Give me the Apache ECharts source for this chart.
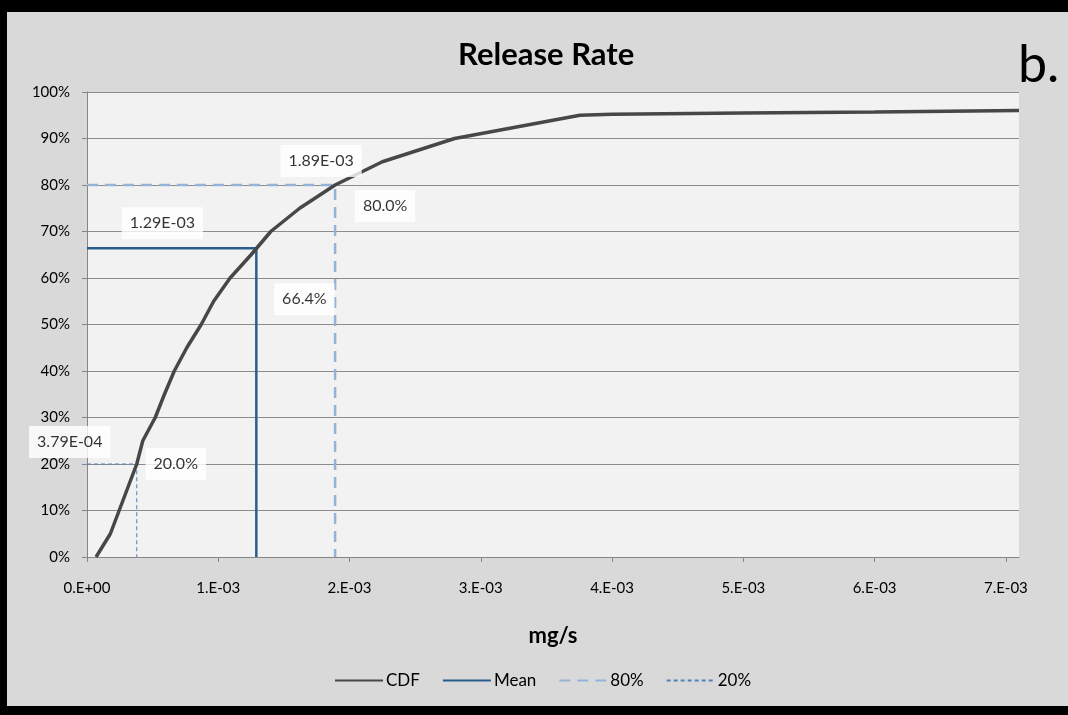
<!DOCTYPE html>
<html>
<head>
<meta charset="utf-8">
<script src="https://cdn.jsdelivr.net/npm/echarts@6/dist/echarts.min.js"></script>
<style>
  html, body { margin: 0; padding: 0; background: #000; }
  #chart { position: absolute; left: 7px; top: 12px; width: 1061px; height: 694px; }
</style>
</head>
<body>
<div id="chart"></div>
<script>
// CDF of release rate (mg/s) vs cumulative percent
const cdfRate = [0.000069, 0.000178, 0.000245, 0.000312, 0.000379, 0.000425, 0.000520, 0.000590,
                 0.000665, 0.000760, 0.000870, 0.000965, 0.001090, 0.001250, 0.001400, 0.001620,
                 0.001890, 0.002250, 0.002800, 0.003755, 0.004000, 0.005000, 0.006000, 0.007100];
const cdfPct = [0, 5, 10, 15, 20, 25, 30, 35, 40, 45, 50, 55, 60, 65, 70, 75, 80, 85, 90, 95,
                95.2, 95.5, 95.7, 96.0];

const meanRate = 0.00129, meanPct = 66.4;
const p80Rate = 0.00189, p80Pct = 80.0;
const p20Rate = 0.000379, p20Pct = 20.0;

const font = 'Lato, "Open Sans", sans-serif';

function sciTick(v) {
    if (v === 0) return '0.E+00';
    const e = Math.floor(Math.log10(Math.abs(v)) + 1e-9);
    const m = Math.round(v / Math.pow(10, e));
    return m + '.E' + (e < 0 ? '-' : '+') + String(Math.abs(e)).padStart(2, '0');
}
function sci2(v) {
    const [m, e] = v.toExponential(2).split('e');
    const n = parseInt(e, 10);
    return m + 'E' + (n < 0 ? '-' : '+') + String(Math.abs(n)).padStart(2, '0');
}

// a reference line: horizontal from the y axis to the curve, then down to the x axis
const refLine = (rate, pct) => [[0, pct], [rate, pct], [rate, 0]];

const labelBox = (rate, pct, text, offset) => ({
    value: [rate, pct],
    label: { formatter: text, offset: offset }
});

const chart = echarts.init(document.getElementById('chart'));

chart.setOption({
    backgroundColor: '#d9d9d9',
    animation: false,
    title: [
        { text: 'Release Rate', left: 446, top: 22,
          textStyle: { fontFamily: font, fontSize: 31, fontWeight: 'bold', color: '#000' } },
        { text: 'b.', left: 1006, top: 22,
          textStyle: { fontFamily: font, fontSize: 52, fontWeight: 'normal', color: '#000' } }
    ],
    legend: {
        data: ['CDF', 'Mean', '80%', '20%'],
        left: 322, top: 655,
        itemWidth: 48, itemHeight: 12, itemGap: 22,
        itemStyle: { color: 'transparent', borderWidth: 0, opacity: 0 },
        textStyle: { fontFamily: font, fontSize: 17, color: '#000', padding: [0, 0, 0, -2] }
    },
    grid: {
        left: 80, right: 49, top: 80, bottom: 149,
        show: true, backgroundColor: '#f2f2f2', borderWidth: 0
    },
    xAxis: {
        type: 'value',
        min: 0, max: 0.0071, interval: 0.001,
        name: 'mg/s', nameLocation: 'middle', nameGap: 68,
        nameTextStyle: { fontFamily: font, fontSize: 22, fontWeight: 'bold', color: '#000' },
        axisLine: { show: true, lineStyle: { color: '#868686' } },
        axisTick: { show: true, length: 5, lineStyle: { color: '#868686' } },
        axisLabel: { formatter: sciTick, margin: 24, fontFamily: font, fontSize: 15, color: '#000',
                     showMaxLabel: false },
        splitLine: { show: false }
    },
    yAxis: {
        type: 'value',
        min: 0, max: 100, interval: 10,
        axisLine: { show: true, lineStyle: { color: '#868686' } },
        axisTick: { show: true, length: 5, lineStyle: { color: '#868686' } },
        axisLabel: { formatter: '{value}%', margin: 17, fontFamily: font, fontSize: 15, color: '#000' },
        splitLine: { show: true, lineStyle: { color: '#8c8c8c', width: 1 } }
    },
    series: [
        {
            name: 'CDF', type: 'line', symbol: 'none', z: 5,
            lineStyle: { color: '#474747', width: 3.5 },
            itemStyle: { color: '#474747' },
            data: cdfRate.map((r, i) => [r, cdfPct[i]])
        },
        {
            name: 'Mean', type: 'line', symbol: 'none', z: 3,
            lineStyle: { color: '#2b5c8e', width: 2.5 },
            itemStyle: { color: '#2b5c8e' },
            data: refLine(meanRate, meanPct)
        },
        {
            name: '80%', type: 'line', symbol: 'none', z: 3,
            lineStyle: { color: '#95b3d7', width: 2.5, type: [11, 7] },
            itemStyle: { color: '#95b3d7' },
            data: refLine(p80Rate, p80Pct)
        },
        {
            name: '20%', type: 'line', symbol: 'none', z: 3,
            lineStyle: { color: '#4f81bd', width: 1, type: [4, 3] },
            itemStyle: { color: '#4f81bd' },
            data: refLine(p20Rate, p20Pct)
        },
        {
            // data labels for the reference points
            type: 'scatter', symbolSize: 0, silent: true, z: 10,
            label: {
                show: true, position: 'inside',
                backgroundColor: '#fff', padding: [9, 8, 7, 8],
                fontFamily: font, fontSize: 16, color: '#000'
            },
            data: [
                labelBox(meanRate, meanPct, sci2(meanRate), [-94, -25]),
                labelBox(meanRate, meanPct, meanPct.toFixed(1) + '%', [48, 51]),
                labelBox(p80Rate, p80Pct, sci2(p80Rate), [-14, -24]),
                labelBox(p80Rate, p80Pct, p80Pct.toFixed(1) + '%', [50, 21]),
                labelBox(p20Rate, p20Pct, sci2(p20Rate), [-67, -22]),
                labelBox(p20Rate, p20Pct, p20Pct.toFixed(1) + '%', [39, 0])
            ]
        }
    ]
});
</script>
</body>
</html>
